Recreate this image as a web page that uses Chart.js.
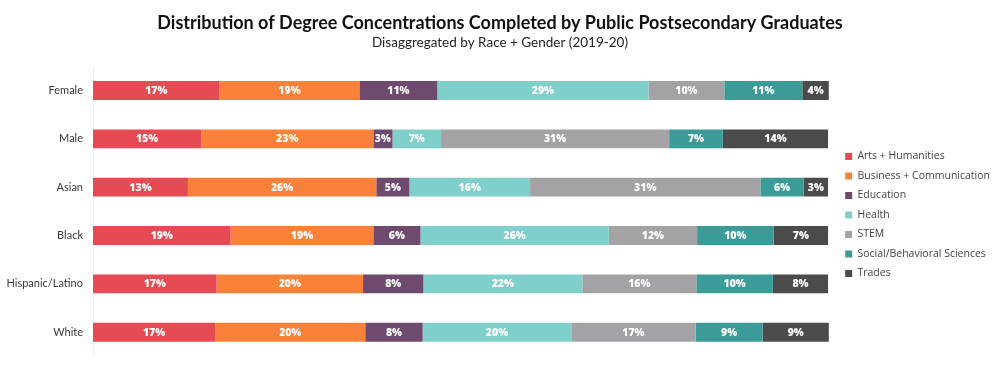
<!DOCTYPE html>
<html>
<head>
<meta charset="utf-8">
<script src="https://cdn.jsdelivr.net/npm/chart.js@4"></script>
<style>
  html, body { margin: 0; padding: 0; background: #fff; }
  #wrap { width: 1000px; height: 373px; }
</style>
</head>
<body>
<div id="wrap"><canvas id="degree_chart"></canvas></div>
<script>
const groups = ['Female', 'Male', 'Asian', 'Black', 'Hispanic/Latino', 'White'];

// shares per concentration (%), one entry per group
const artsHumanities = [17.2, 14.7, 12.9, 18.7, 16.8, 16.6];
const businessComm   = [19.0, 23.4, 25.6, 19.4, 19.9, 20.4];
const education      = [10.6, 2.6, 4.5, 6.4, 8.2, 7.8];
const health         = [28.7, 6.6, 16.4, 25.6, 21.6, 20.2];
const stem           = [10.3, 31.0, 31.3, 12.0, 15.5, 16.9];
const socialBehav    = [10.6, 7.3, 5.9, 10.4, 10.4, 9.1];
const trades         = [3.6, 14.3, 3.3, 7.4, 7.5, 9.0];

const seriesNames = ['Arts + Humanities', 'Business + Communication', 'Education', 'Health', 'STEM', 'Social/Behavioral Sciences', 'Trades'];
const seriesValues = [artsHumanities, businessComm, education, health, stem, socialBehav, trades];
const seriesColors = ['#E64A53', '#FA8139', '#6E4A6F', '#7FCFCB', '#A3A3A6', '#3B9B98', '#4B4B4B'];

// white % labels in the middle of each segment
const segmentLabels = {
  id: 'segmentLabels',
  afterDatasetsDraw(chart) {
    const ctx = chart.ctx;
    ctx.save();
    ctx.fillStyle = '#fff';
    ctx.font = '800 10.5px "Open Sans", sans-serif';
    ctx.textAlign = 'center';
    ctx.textBaseline = 'middle';
    chart.data.datasets.forEach((ds, i) => {
      chart.getDatasetMeta(i).data.forEach((bar, j) => {
        const cx = (bar.x + bar.base) / 2;
        ctx.fillText(Math.round(ds.data[j]) + '%', cx, bar.y + 0.5);
      });
    });
    ctx.restore();
  }
};

new Chart(document.getElementById('degree_chart'), {
  type: 'bar',
  data: {
    labels: groups,
    datasets: seriesNames.map((name, i) => ({
      label: name,
      data: seriesValues[i],
      backgroundColor: seriesColors[i],
      borderWidth: 0,
      barPercentage: 0.39,
      categoryPercentage: 1
    }))
  },
  options: {
    indexAxis: 'y',
    responsive: true,
    maintainAspectRatio: false,
    animation: false,
    layout: { padding: { left: 0, right: 0, top: 0, bottom: 11 } },
    scales: {
      x: {
        stacked: true,
        display: false,
        min: 0,
        max: 101   // leaves the small gap before the legend
      },
      y: {
        stacked: true,
        grid: { display: false, drawTicks: false },
        border: { display: true, color: '#eeeeee', width: 1 },
        ticks: {
          color: '#3a3a3a',
          padding: 10,
          font: { family: 'Lato, sans-serif', size: 11 }
        },
        afterFit(scale) { scale.width = 93; }
      }
    },
    plugins: {
      title: {
        display: true,
        text: 'Distribution of Degree Concentrations Completed by Public Postsecondary Graduates',
        color: '#111',
        font: { family: 'Lato, sans-serif', size: 18, weight: 'bold' },
        padding: { top: 12, bottom: 0 }
      },
      subtitle: {
        display: true,
        text: 'Disaggregated by Race + Gender (2019-20)',
        color: '#222',
        font: { family: 'Lato, sans-serif', size: 13.5 },
        padding: { top: 1, bottom: 15.5 }
      },
      legend: {
        position: 'right',
        align: 'center',
        title: { display: true, text: '', font: { size: 10 }, padding: { top: 56, bottom: 0 } },
        labels: {
          boxWidth: 7,
          boxHeight: 7,
          padding: 9,
          color: '#444',
          font: { family: '"Open Sans", sans-serif', size: 10.5 }
        }
      },
      tooltip: { enabled: false }
    }
  },
  plugins: [segmentLabels]
});
</script>
</body>
</html>
